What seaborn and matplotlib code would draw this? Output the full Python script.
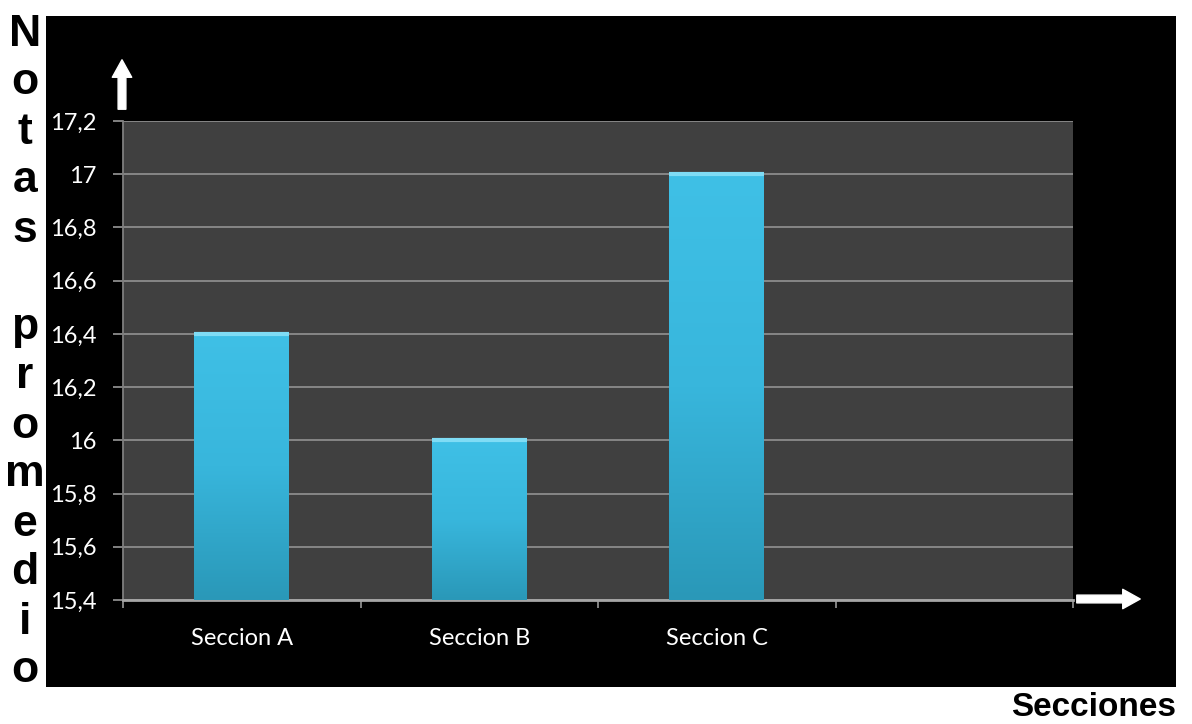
import numpy as np
import pandas as pd
import matplotlib
matplotlib.use("Agg")
import matplotlib.pyplot as plt
import seaborn as sns
from matplotlib.patches import Rectangle

# Datos del grafico
secciones = ["Seccion A", "Seccion B", "Seccion C"]
notas = [16.4, 16.0, 17.0]
y_ticks = [15.4, 15.6, 15.8, 16.0, 16.2, 16.4, 16.6, 16.8, 17.0, 17.2]
y_labels = ["15,4", "15,6", "15,8", "16", "16,2", "16,4", "16,6", "16,8", "17", "17,2"]
titulo_y = "Notas promedio"
titulo_x = "Secciones"

df = pd.DataFrame({"seccion": secciones, "nota": notas})

sns.set_style("dark")
plt.rcParams["font.family"] = ["Lato", "DejaVu Sans"]

fig = plt.figure(figsize=(11.92, 7.24), dpi=100, facecolor="white")

# fondo negro
fig.add_artist(Rectangle((46 / 1192, 37 / 724), 1130 / 1192, 671 / 724,
                         transform=fig.transFigure, facecolor="black",
                         edgecolor="none", zorder=0))

ax = fig.add_axes([123 / 1192, 124 / 724, 950 / 1192, 479 / 724])
ax.set_facecolor("#404040")

sns.barplot(data=df, x="seccion", y="nota", color="#3ab4da", width=0.4,
            saturation=1, linewidth=0, edgecolor="none", ax=ax, zorder=3)

# degradado vertical dentro de cada barra
grad = np.linspace(0, 1, 256).reshape(-1, 1)
cmap = matplotlib.colors.LinearSegmentedColormap.from_list(
    "barra", ["#2a98b8", "#38b6dc", "#3fc0e6"])
for p in ax.patches:
    x0, y0 = p.get_x(), 15.4
    x1, y1 = p.get_x() + p.get_width(), p.get_height()
    im = ax.imshow(grad, extent=(x0, x1, y0, y1), origin="lower", cmap=cmap,
                   aspect="auto", zorder=4)
    im.set_clip_path(p)
    ax.plot([x0, x1], [y1, y1], color="#7fdcf5", lw=3, zorder=5,
            solid_capstyle="butt")

ax.set_xlim(-0.5, 3.5)
ax.set_ylim(15.4, 17.2)
ax.set_yticks(y_ticks)
ax.set_yticklabels(y_labels)
ax.set_xticks(range(4))
ax.set_xticklabels(secciones + [""])
ax.set_xticks(np.arange(-0.5, 4, 1), minor=True)
ax.set_xlabel("")
ax.set_ylabel("")

ax.grid(False)
ax.yaxis.grid(True, color="#8c8c8c", linewidth=1.3, zorder=1)
ax.set_axisbelow(True)

ax.tick_params(axis="y", colors="#8c8c8c", labelcolor="white", labelsize=17,
               length=7, width=1.3, pad=12, left=True)
ax.tick_params(axis="x", which="major", length=0, labelcolor="white",
               labelsize=17, pad=20)
ax.tick_params(axis="x", which="minor", length=6, width=1.3,
               colors="#8c8c8c", bottom=True)

for s in ["top", "right"]:
    ax.spines[s].set_visible(False)
ax.spines["left"].set_color("#7f7f7f")
ax.spines["left"].set_linewidth(1.3)
ax.spines["bottom"].set_color("#a6a6a6")
ax.spines["bottom"].set_linewidth(2)

# flechas blancas
flecha = dict(arrowstyle="simple,head_length=0.9,head_width=1.0,tail_width=0.4",
              color="white", mutation_scale=14)
ax.annotate("", xy=(122, 724 - 57), xytext=(122, 724 - 112),
            xycoords="figure pixels", textcoords="figure pixels",
            arrowprops=flecha, annotation_clip=False)
ax.annotate("", xy=(1143, 724 - 599), xytext=(1074, 724 - 599),
            xycoords="figure pixels", textcoords="figure pixels",
            arrowprops=flecha, annotation_clip=False)

# titulo vertical letra por letra
for i, letra in enumerate(titulo_y):
    fig.text(25 / 1192, 1 - (34 + i * 49) / 724, letra, ha="center", va="center",
             fontsize=32, fontweight="heavy", color="black",
             family=["Liberation Sans", "DejaVu Sans"])

fig.text(1176 / 1192, 8 / 724, titulo_x, ha="right", va="baseline",
         fontsize=24, fontweight="bold", color="black",
         family=["Liberation Sans", "DejaVu Sans"])

fig.savefig("out.png", dpi=100, facecolor="white")
